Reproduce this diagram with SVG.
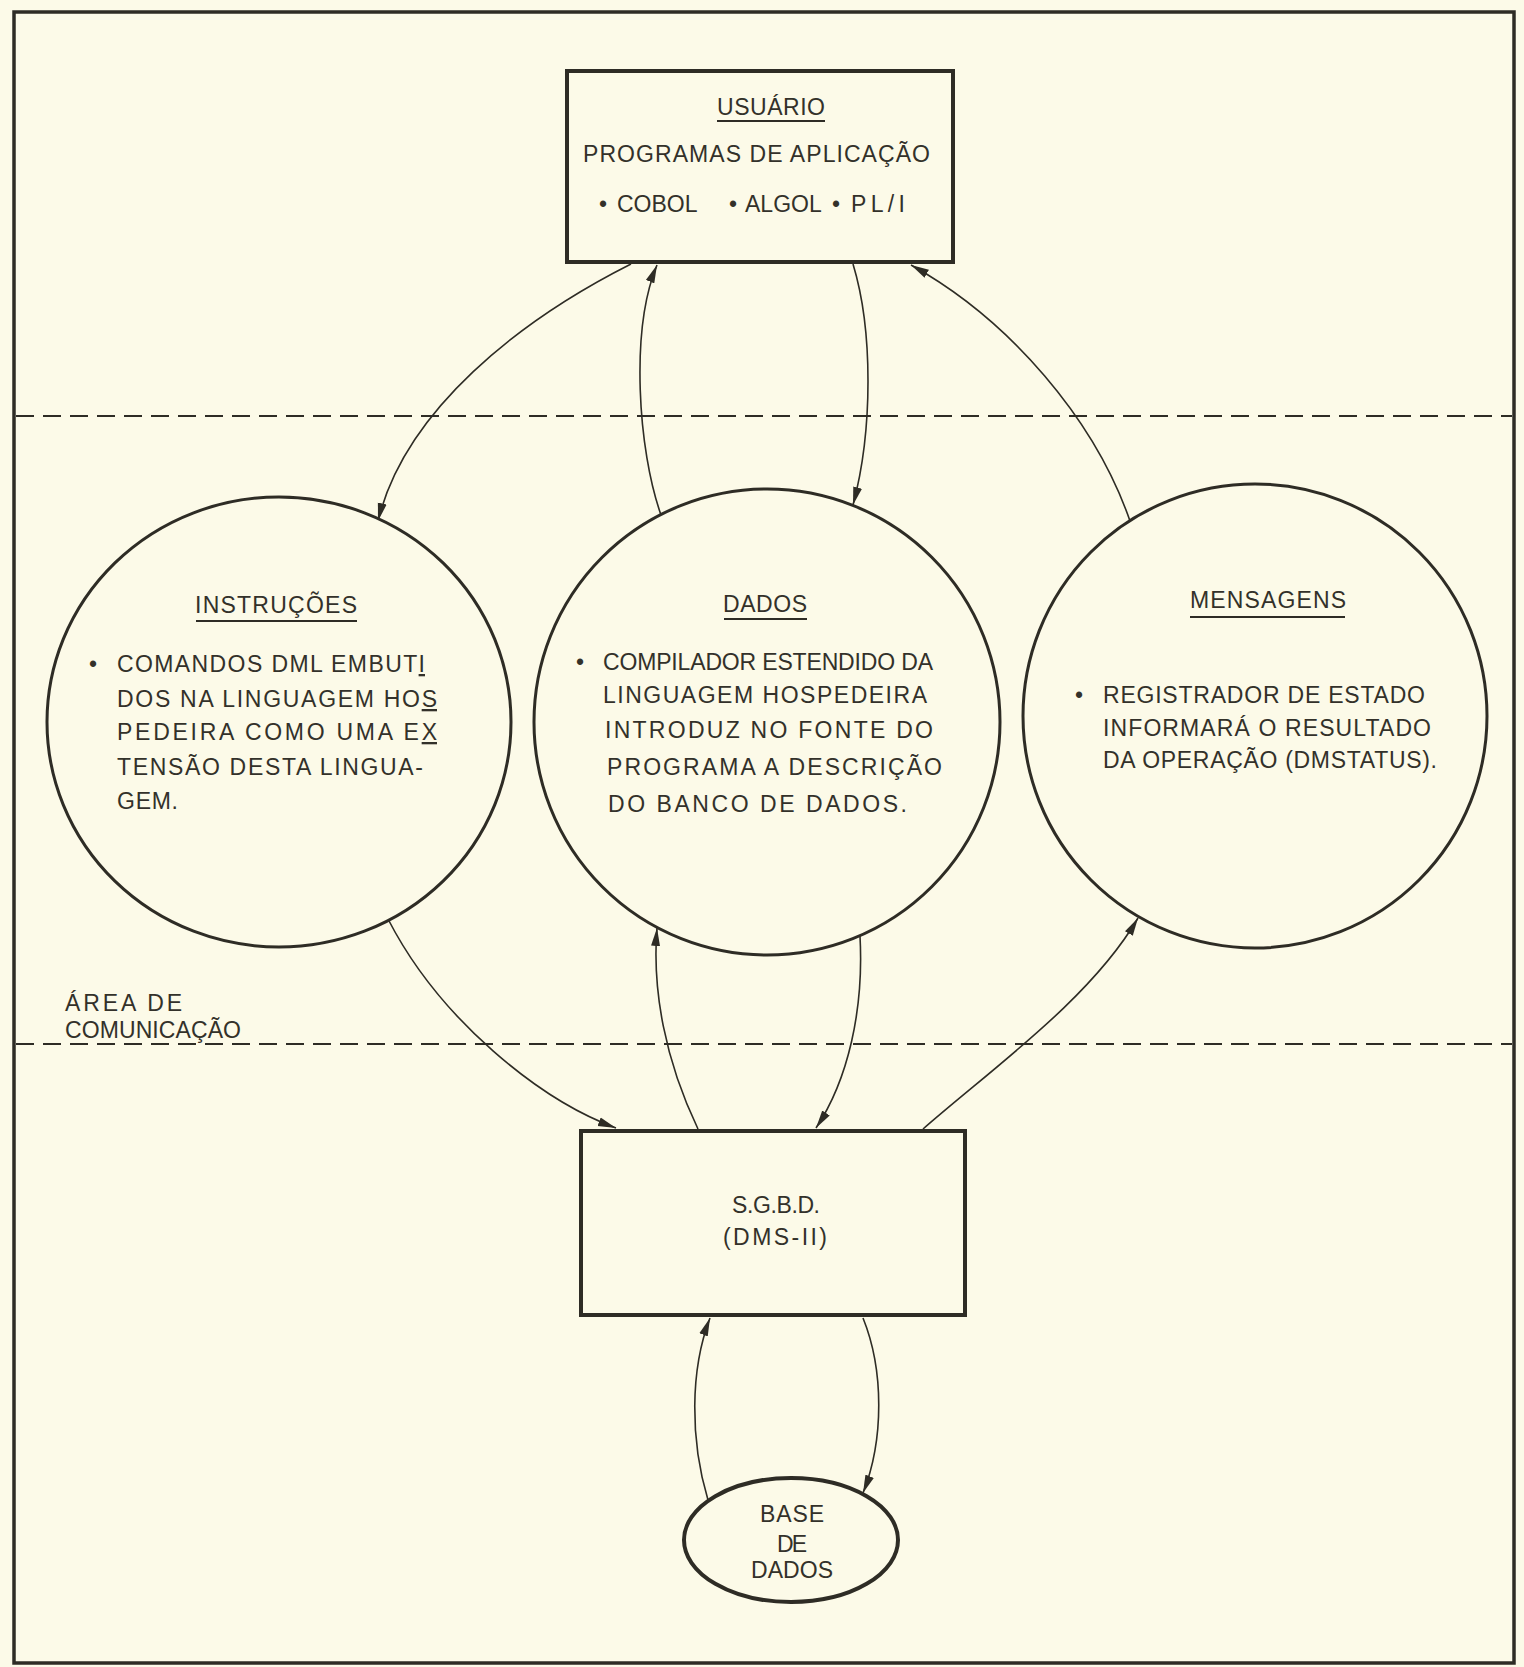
<svg xmlns="http://www.w3.org/2000/svg" width="1524" height="1667" viewBox="0 0 1524 1667">
  <style>
    .ink { stroke: #2e2c25; fill: none; }
    .box { stroke-width: 4; fill: #fcfae8; stroke: #2e2c25; }
    .bubble { stroke-width: 3; fill: #fcfae8; stroke: #2e2c25; }
    .frame { stroke-width: 3.5; }
    .zone { stroke-width: 2; stroke-dasharray: 18 9; }
    .link { stroke-width: 1.6; marker-end: url(#arrow); }
    .rule { stroke-width: 2; }
    text { font-family: "Liberation Sans", Arial, sans-serif; font-size: 23px; fill: #33312a; }
    .ul { text-decoration: underline; }
  </style>
  <defs>
    <marker id="arrow" viewBox="0 0 18 10" refX="18" refY="5" markerWidth="18" markerHeight="10" markerUnits="userSpaceOnUse" orient="auto">
      <path d="M0,0.5 L18,5 L0,9.5 Z" fill="#2e2c25"/>
    </marker>
  </defs>

  <!-- paper and outer frame -->
  <rect x="0" y="0" width="1524" height="1667" fill="#fcfae8"/>
  <rect class="ink frame" x="14" y="12" width="1500" height="1651"/>

  <!-- boundaries of the communication area -->
  <g id="zones">
    <line class="ink zone" x1="16" y1="416" x2="1512" y2="416"/>
    <line class="ink zone" x1="16" y1="1044" x2="1512" y2="1044"/>
    <text x="65" y="1011" textLength="117" lengthAdjust="spacing">ÁREA DE</text>
    <text x="65" y="1038" textLength="176" lengthAdjust="spacing">COMUNICAÇÃO</text>
  </g>

  <!-- connectors -->
  <g id="connectors">
    <path class="ink link" d="M631,264 C520,320 405,410 378,521"/>
    <path class="ink link" d="M661,515 C638,450 630,330 657,265"/>
    <path class="ink link" d="M853,264 C873,330 873,430 853,505"/>
    <path class="ink link" d="M1130,521 C1095,420 1010,320 911,265"/>
    <path class="ink link" d="M388,919 C440,1020 540,1100 616,1128"/>
    <path class="ink link" d="M698,1129 C665,1060 652,990 657,928"/>
    <path class="ink link" d="M860,936 C864,1010 848,1080 816,1128"/>
    <path class="ink link" d="M923,1129 C990,1070 1090,1000 1138,918"/>
    <path class="ink link" d="M708,1500 C690,1440 690,1370 710,1318"/>
    <path class="ink link" d="M863,1318 C884,1370 884,1440 863,1493"/>
  </g>

  <!-- user / application programs -->
  <g id="usuario">
    <rect class="box" x="567" y="71" width="386" height="191"/>
    <text x="717" y="115" textLength="108" lengthAdjust="spacing">USUÁRIO</text>
    <line class="ink rule" x1="717" y1="121" x2="825" y2="121"/>
    <text x="583" y="162" textLength="347" lengthAdjust="spacing">PROGRAMAS DE APLICAÇÃO</text>
    <text y="212"><tspan x="599">•</tspan><tspan x="617">COBOL</tspan><tspan x="729">•</tspan><tspan x="745">ALGOL</tspan><tspan x="832">•</tspan></text>
    <text x="851" y="212" textLength="54" lengthAdjust="spacing">PL/I</text>
  </g>

  <!-- instructions -->
  <g id="instrucoes">
    <ellipse class="bubble" cx="279" cy="722" rx="232" ry="225"/>
    <text x="195" y="613" textLength="162" lengthAdjust="spacing">INSTRUÇÕES</text>
    <line class="ink rule" x1="196" y1="621" x2="357" y2="621"/>
    <text x="89" y="672">•</text>
    <text x="117" y="672" textLength="308" lengthAdjust="spacing">COMANDOS DML EMBUT<tspan class="ul">I</tspan></text>
    <text x="117" y="707" textLength="320" lengthAdjust="spacing">DOS NA LINGUAGEM HO<tspan class="ul">S</tspan></text>
    <text x="117" y="740" textLength="320" lengthAdjust="spacing">PEDEIRA COMO UMA E<tspan class="ul">X</tspan></text>
    <text x="117" y="775" textLength="306" lengthAdjust="spacing">TENSÃO DESTA LINGUA-</text>
    <text x="117" y="809" textLength="61" lengthAdjust="spacing">GEM.</text>
  </g>

  <!-- data -->
  <g id="dados">
    <circle class="bubble" cx="767" cy="722" r="233"/>
    <text x="723" y="612" textLength="84" lengthAdjust="spacing">DADOS</text>
    <line class="ink rule" x1="724" y1="619" x2="807" y2="619"/>
    <text x="576" y="670">•</text>
    <text x="603" y="670" textLength="330" lengthAdjust="spacing">COMPILADOR ESTENDIDO DA</text>
    <text x="603" y="703" textLength="324" lengthAdjust="spacing">LINGUAGEM HOSPEDEIRA</text>
    <text x="605" y="738" textLength="328" lengthAdjust="spacing">INTRODUZ NO FONTE DO</text>
    <text x="607" y="775" textLength="335" lengthAdjust="spacing">PROGRAMA A DESCRIÇÃO</text>
    <text x="608" y="812" textLength="299" lengthAdjust="spacing">DO BANCO DE DADOS.</text>
  </g>

  <!-- messages -->
  <g id="mensagens">
    <circle class="bubble" cx="1255" cy="716" r="232"/>
    <text x="1190" y="608" textLength="156" lengthAdjust="spacing">MENSAGENS</text>
    <line class="ink rule" x1="1190" y1="617" x2="1345" y2="617"/>
    <text x="1075" y="703">•</text>
    <text x="1103" y="703" textLength="322" lengthAdjust="spacing">REGISTRADOR DE ESTADO</text>
    <text x="1103" y="736" textLength="328" lengthAdjust="spacing">INFORMARÁ O RESULTADO</text>
    <text x="1103" y="768" textLength="334" lengthAdjust="spacing">DA OPERAÇÃO (DMSTATUS).</text>
  </g>

  <!-- database management system -->
  <g id="sgbd">
    <rect class="box" x="581" y="1131" width="384" height="184"/>
    <text x="732" y="1213" textLength="88" lengthAdjust="spacing">S.G.B.D.</text>
    <text x="723" y="1245" textLength="104" lengthAdjust="spacing">(DMS-II)</text>
  </g>

  <!-- database -->
  <g id="base-de-dados">
    <ellipse class="bubble" cx="791" cy="1540" rx="107" ry="62" style="stroke-width:4"/>
    <text x="760" y="1522" textLength="64" lengthAdjust="spacing">BASE</text>
    <text x="777" y="1552" textLength="30" lengthAdjust="spacing">DE</text>
    <text x="751" y="1578" textLength="82" lengthAdjust="spacing">DADOS</text>
  </g>
</svg>
